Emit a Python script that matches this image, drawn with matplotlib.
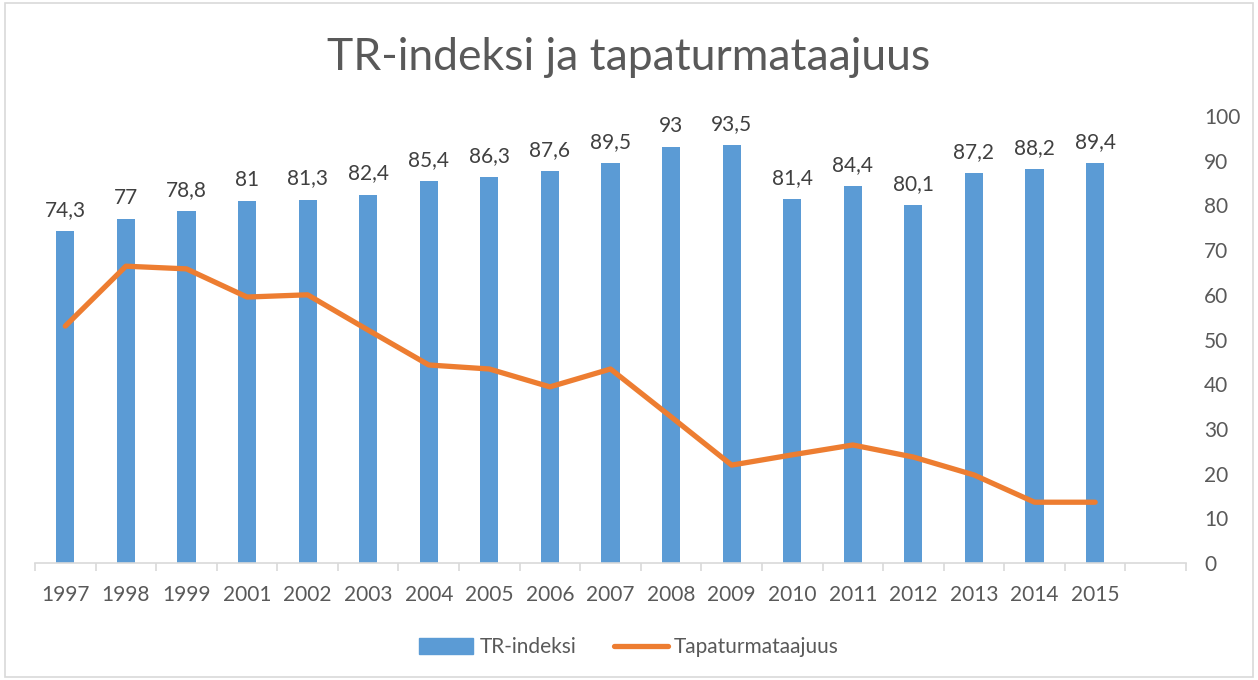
import matplotlib.pyplot as plt
from matplotlib.patches import Rectangle
from matplotlib.lines import Line2D
from matplotlib.ticker import FixedLocator

years = ["1997", "1998", "1999", "2001", "2002", "2003", "2004", "2005", "2006",
         "2007", "2008", "2009", "2010", "2011", "2012", "2013", "2014", "2015"]
tr_index = [74.3, 77, 78.8, 81, 81.3, 82.4, 85.4, 86.3, 87.6,
            89.5, 93, 93.5, 81.4, 84.4, 80.1, 87.2, 88.2, 89.4]
accident_rate = [53.0, 66.4, 65.8, 59.5, 60.0, 52.1, 44.3, 43.4, 39.4,
                 43.4, 32.7, 21.9, 24.2, 26.4, 23.7, 19.7, 13.6, 13.6]
y_ticks = [0, 10, 20, 30, 40, 50, 60, 70, 80, 90, 100]

blue = "#5B9BD5"
orange = "#ED7D31"
text_col = "#595959"
axis_col = "#D9D9D9"

plt.rcParams["font.family"] = ["Lato", "DejaVu Sans"]

fig = plt.figure(figsize=(12.58, 6.8), dpi=100)
ax = fig.add_axes([35 / 1258, 117 / 680, 1151 / 1258, 447 / 680])

x = list(range(len(years)))
ax.bar(x, tr_index, width=0.3, color=blue, zorder=2)
ax.plot(x, accident_rate, color=orange, linewidth=3.8, solid_capstyle="round",
        solid_joinstyle="round", zorder=3)

for xi, v in zip(x, tr_index):
    label = f"{v:g}".replace(".", ",")
    ax.annotate(label, (xi, v), xytext=(0, 8), textcoords="offset points",
                ha="center", va="bottom", fontsize=15, color="#404040")

ax.set_xlim(-0.5, len(years) + 0.5)
ax.set_ylim(0, 100)

ax.set_xticks(x)
ax.set_xticklabels(years, fontsize=15, color=text_col)
ax.xaxis.set_minor_locator(FixedLocator([i - 0.5 for i in range(len(years) + 2)]))
ax.tick_params(axis="x", which="major", length=0, pad=16)
ax.tick_params(axis="x", which="minor", length=6, width=1.2, color=axis_col)

ax.yaxis.tick_right()
ax.set_yticks(y_ticks)
ax.set_yticklabels([str(t) for t in y_ticks], fontsize=15, color=text_col)
ax.tick_params(axis="y", length=0, pad=13)

for side in ["top", "left", "right"]:
    ax.spines[side].set_visible(False)
ax.spines["bottom"].set_color(axis_col)
ax.spines["bottom"].set_linewidth(1.2)

fig.text(0.5, 0.915, "TR-indeksi ja tapaturmataajuus", ha="center", va="center",
         fontsize=32, color=text_col)

handles = [Rectangle((0, 0), 1, 1, color=blue),
           Line2D([0], [0], color=orange, linewidth=3.8, solid_capstyle="round")]
fig.legend(handles, ["TR-indeksi", "Tapaturmataajuus"], loc="center",
           bbox_to_anchor=(0.5, 0.048), ncol=2, frameon=False, fontsize=15,
           labelcolor=text_col, handlelength=2.6, handleheight=0.8,
           columnspacing=1.8, handletextpad=0.3)

fig.patches.append(Rectangle((5 / 1258, 3 / 680), 1248 / 1258, 674 / 680,
                             transform=fig.transFigure, fill=False,
                             edgecolor=axis_col, linewidth=1.2))

fig.savefig("out.png", dpi=100, facecolor="white")
